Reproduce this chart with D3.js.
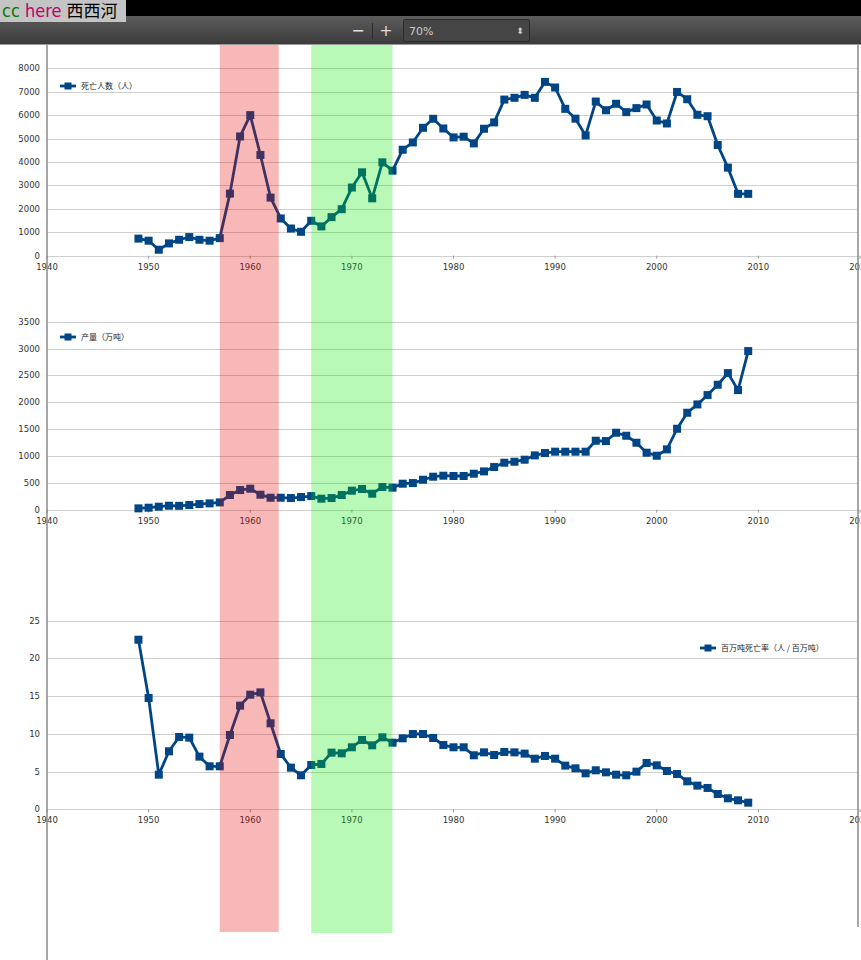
<!DOCTYPE html>
<html><head><meta charset="utf-8">
<script src="https://cdn.jsdelivr.net/npm/d3@7/dist/d3.min.js"></script>
<style>
html,body{margin:0;padding:0;background:#fff;overflow:hidden;}
svg{display:block;}
</style></head>
<body>
<svg id="c" width="861" height="960"></svg>
<script>
// ---- data ----
const years = d3.range(1949, 2010);
const deaths = [730,640,255,525,680,795,680,640,750,2650,
  5090,6000,4300,2480,1590,1160,1020,1490,1250,1645,
  1985,2910,3560,2450,3985,3630,4525,4835,5460,5845,
  5430,5050,5080,4795,5420,5690,6665,6740,6865,6740,
  7420,7180,6270,5850,5135,6580,6210,6485,6130,6300,
  6455,5770,5645,6990,6680,6015,5955,4725,3760,2640,
  2640];
const production = [25,37,56,74,72,87,105,118,136,273,
  366,391,279,223,223,217,236,254,205,217,
  273,354,385,298,422,410,484,496,558,614,
  633,627,627,670,713,794,875,893,931,1011,
  1055,1080,1080,1080,1080,1284,1278,1433,1377,1247,
  1061,1005,1123,1507,1805,1960,2134,2326,2543,2227,
  2953];
const rate = [22.48,14.75,4.59,7.69,9.59,9.50,6.98,5.70,5.70,9.85,
  13.74,15.19,15.50,11.40,7.33,5.52,4.51,5.87,6.01,7.51,
  7.42,8.22,9.19,8.48,9.54,8.83,9.41,9.98,9.98,9.45,
  8.52,8.22,8.22,7.16,7.55,7.20,7.60,7.55,7.38,6.71,
  7.07,6.71,5.79,5.43,4.77,5.17,4.90,4.59,4.51,4.99,
  6.14,5.83,5.08,4.68,3.71,3.14,2.83,2.03,1.46,1.19,
  0.88];
const xTicks = [1940,1950,1960,1970,1980,1990,2000,2010,2020];
const yTicks1 = [0,1000,2000,3000,4000,5000,6000,7000,8000];
const yTicks2 = [0,500,1000,1500,2000,2500,3000,3500];
const yTicks3 = [0,5,10,15,20,25];
const seriesNames = ["死亡人数（人）","产量（万吨）","百万吨死亡率（人 / 百万吨）"];
const bands = [{from:1957,to:1962.8,color:"rgb(230,0,0)"},{from:1966,to:1974,color:"rgb(0,232,0)"}];

// ---- drawing ----
const svg = d3.select("#c");
const BLUE = "#004586";
const x = d3.scaleLinear().domain([1940,2020]).range([47,860]);

const panels = [
  {vals:deaths, ticks:yTicks1, dom:[0,8000], range:[255.7,68.3], name:seriesNames[0], lx:60, ly:86},
  {vals:production, ticks:yTicks2, dom:[0,3500], range:[509.7,321.7], name:seriesNames[1], lx:60, ly:337},
  {vals:rate, ticks:yTicks3, dom:[0,25], range:[809.3,620.7], name:seriesNames[2], lx:700, ly:648}
];

const font = "'DejaVu Sans', sans-serif";
const cjk = "'Noto Sans CJK SC', sans-serif";

panels.forEach(p => {
  const y = d3.scaleLinear().domain(p.dom).range(p.range);
  const g = svg.append("g");
  // gridlines
  g.selectAll("line.grid").data(p.ticks).join("line")
    .attr("x1",47).attr("x2",858)
    .attr("y1",d=>Math.round(y(d))+0.5).attr("y2",d=>Math.round(y(d))+0.5)
    .attr("stroke","#cfcfcf").attr("stroke-width",1.2);
  // y labels
  g.selectAll("text.yl").data(p.ticks).join("text")
    .attr("x",40).attr("y",d=>y(d)+3)
    .attr("text-anchor","end").attr("font-family",font).attr("font-size",8.5)
    .attr("fill","#333").text(d=>d);
  // x ticks and labels
  const y0 = y(0);
  g.selectAll("line.xt").data(xTicks).join("line")
    .attr("x1",d=>x(d)).attr("x2",d=>x(d)).attr("y1",y0).attr("y2",y0+3)
    .attr("stroke","#999").attr("stroke-width",1);
  g.selectAll("text.xl").data(xTicks).join("text")
    .attr("x",d=>x(d)).attr("y",y0+14)
    .attr("text-anchor","middle").attr("font-family",font).attr("font-size",8.5)
    .attr("fill","#333").text(d=>d);
  // line
  const line = d3.line().x((d,i)=>x(years[i])).y(d=>y(d));
  g.append("path").datum(p.vals).attr("d",line)
    .attr("fill","none").attr("stroke",BLUE).attr("stroke-width",2.8)
    .attr("stroke-linejoin","round");
  g.selectAll("rect.m").data(p.vals).join("rect")
    .attr("x",(d,i)=>x(years[i])-4).attr("y",d=>y(d)-4)
    .attr("width",8).attr("height",8).attr("fill",BLUE);
  // legend
  g.append("line").attr("x1",p.lx).attr("x2",p.lx+16).attr("y1",p.ly).attr("y2",p.ly)
    .attr("stroke",BLUE).attr("stroke-width",2.8);
  g.append("rect").attr("x",p.lx+4.5).attr("y",p.ly-3.5).attr("width",7).attr("height",7).attr("fill",BLUE);
  g.append("text").attr("x",p.lx+21).attr("y",p.ly+3)
    .attr("font-family",cjk).attr("font-size",8).attr("fill","#222").text(p.name);
});

// axis frame lines
svg.append("line").attr("x1",47).attr("x2",47).attr("y1",45).attr("y2",960)
  .attr("stroke","#8a8a8a").attr("stroke-width",1.5);
svg.append("line").attr("x1",858).attr("x2",858).attr("y1",45).attr("y2",927)
  .attr("stroke","#8a8a8a").attr("stroke-width",1.5);

// highlight bands (over the lines, translucent)
svg.selectAll("rect.band").data(bands).join("rect")
  .attr("x",d=>x(d.from)).attr("width",d=>x(d.to)-x(d.from))
  .attr("y",45).attr("height",(d,i)=>i===0?887:888)
  .attr("fill",d=>d.color).attr("fill-opacity",0.28);

// viewer chrome
const defs = svg.append("defs");
const gr = defs.append("linearGradient").attr("id","tb").attr("x1",0).attr("x2",0).attr("y1",0).attr("y2",1);
gr.append("stop").attr("offset","0%").attr("stop-color","#5c5c5c");
gr.append("stop").attr("offset","100%").attr("stop-color","#3b3b3b");
svg.append("rect").attr("x",0).attr("y",0).attr("width",861).attr("height",16).attr("fill","#000");
svg.append("rect").attr("x",0).attr("y",16).attr("width",861).attr("height",28).attr("fill","url(#tb)");
svg.append("rect").attr("x",0).attr("y",44).attr("width",861).attr("height",1).attr("fill","#9a9a9a");
svg.append("rect").attr("x",0).attr("y",0).attr("width",126).attr("height",22).attr("fill","#c4c4c4");
const t = svg.append("text").attr("x",2).attr("y",17).attr("font-family","'Liberation Sans Narrow','DejaVu Sans Condensed',sans-serif").attr("font-size",18);
t.append("tspan").attr("fill","#007a00").text("cc ");
t.append("tspan").attr("fill","#c0006a").text("here ");
t.append("tspan").attr("fill","#000").attr("font-family","'Noto Sans CJK SC',sans-serif").attr("font-size",17).text("西西河");
svg.append("text").attr("x",358).attr("y",36).attr("text-anchor","middle").attr("font-family",font).attr("font-size",16).attr("fill","#ddd").text("−");
svg.append("line").attr("x1",372.5).attr("x2",372.5).attr("y1",23).attr("y2",39).attr("stroke","#2a2a2a");
svg.append("text").attr("x",386).attr("y",36).attr("text-anchor","middle").attr("font-family",font).attr("font-size",16).attr("fill","#ddd").text("+");
svg.append("rect").attr("x",403.5).attr("y",19.5).attr("width",126).attr("height",22).attr("rx",2)
  .attr("fill","#454545").attr("stroke","#2a2a2a");
svg.append("text").attr("x",409).attr("y",35).attr("font-family",font).attr("font-size",11).attr("fill","#ccc").text("70%");
svg.append("text").attr("x",520).attr("y",34).attr("text-anchor","middle").attr("font-family",font).attr("font-size",9).attr("fill","#ccc").text("⬍");
</script>
</body></html>
